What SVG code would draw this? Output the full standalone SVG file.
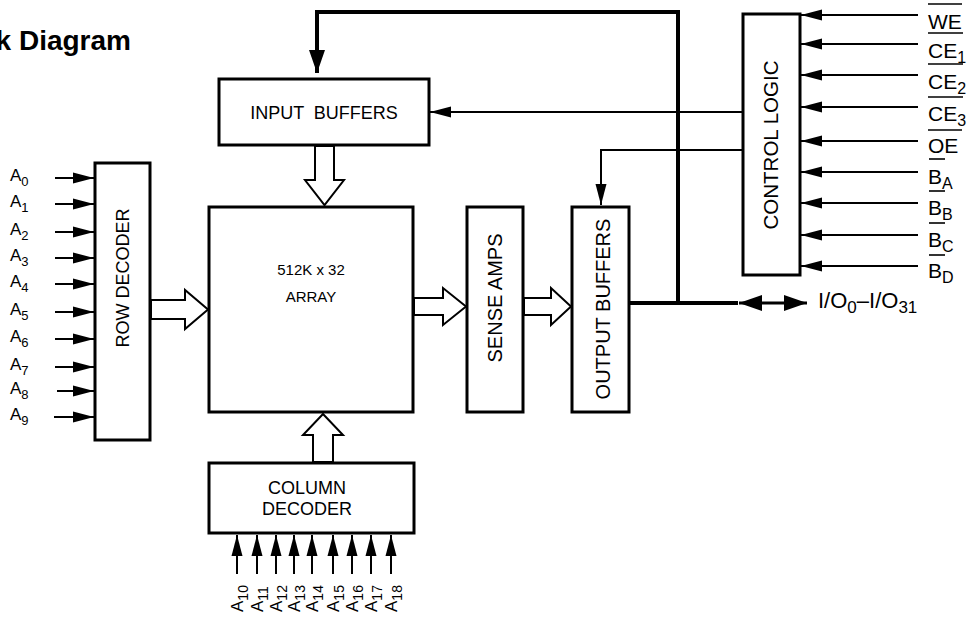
<svg xmlns="http://www.w3.org/2000/svg" width="967" height="617" viewBox="0 0 967 617">
<style>
.box{fill:#fff;stroke:#000;stroke-width:3}
.t{font-family:"Liberation Sans",Arial,sans-serif;fill:#000}
.lbl{font-size:17px}
.sub{font-size:13px}
.csubl{font-size:14px}
.cl{font-size:21px}
.csub{font-size:16px}
.thin{fill:none;stroke:#000;stroke-width:2}
.thick{fill:none;stroke:#000;stroke-width:4}
.hollow{fill:#fff;stroke:#000;stroke-width:2}
.ol{stroke:#000;stroke-width:1.6}
</style>
<defs>
<marker id="ah" markerUnits="userSpaceOnUse" markerWidth="22" markerHeight="12" refX="21" refY="6" orient="auto-start-reverse" viewBox="0 0 22 12">
<path d="M0,0.5 L21,6 L0,11.5 z" fill="#000"/>
</marker>
<marker id="ahb" markerUnits="userSpaceOnUse" markerWidth="24" markerHeight="16" refX="23" refY="8" orient="auto-start-reverse" viewBox="0 0 24 16">
<path d="M0,0 L23,8 L0,16 z" fill="#000"/>
</marker>
</defs>
<rect width="967" height="617" fill="#fff"/>

<text class="t" x="131" y="50" font-size="28" font-weight="bold" text-anchor="end">k Diagram</text>

<g id="connectors">
  <!-- feedback loop -->
  <path class="thick" d="M678,303 V12 H317 V73" marker-end="url(#ahb)"/>
  <!-- I/O line -->
  <path class="thick" d="M630,303 H738"/>
  <path d="M739,303 H807" stroke="#000" stroke-width="3" fill="none" marker-start="url(#ahb)" marker-end="url(#ahb)"/>
  <!-- control to input buffers -->
  <path class="thin" d="M742,112 H430" marker-end="url(#ah)"/>
  <!-- control to output buffers -->
  <path class="thin" d="M742,150 H601 V205" marker-end="url(#ah)"/>
  <!-- control inputs -->
  <path class="thin" d="M918,15 H801" marker-end="url(#ah)"/>
  <path class="thin" d="M918,44 H801" marker-end="url(#ah)"/>
  <path class="thin" d="M918,75 H801" marker-end="url(#ah)"/>
  <path class="thin" d="M918,107 H801" marker-end="url(#ah)"/>
  <path class="thin" d="M918,141 H801" marker-end="url(#ah)"/>
  <path class="thin" d="M918,172 H801" marker-end="url(#ah)"/>
  <path class="thin" d="M918,203 H801" marker-end="url(#ah)"/>
  <path class="thin" d="M918,235 H801" marker-end="url(#ah)"/>
  <path class="thin" d="M918,266 H801" marker-end="url(#ah)"/>
  <!-- row address inputs -->
  <path class="thin" d="M55,178 H94" marker-end="url(#ah)"/>
  <path class="thin" d="M55,204 H94" marker-end="url(#ah)"/>
  <path class="thin" d="M55,232 H94" marker-end="url(#ah)"/>
  <path class="thin" d="M55,258 H94" marker-end="url(#ah)"/>
  <path class="thin" d="M55,284 H94" marker-end="url(#ah)"/>
  <path class="thin" d="M55,312 H94" marker-end="url(#ah)"/>
  <path class="thin" d="M55,339 H94" marker-end="url(#ah)"/>
  <path class="thin" d="M55,367 H94" marker-end="url(#ah)"/>
  <path class="thin" d="M57,391 H94" marker-end="url(#ah)"/>
  <path class="thin" d="M54,417 H94" marker-end="url(#ah)"/>
  <!-- column address inputs -->
  <path class="thin" d="M237,574 V535" marker-end="url(#ah)"/>
  <path class="thin" d="M257,574 V535" marker-end="url(#ah)"/>
  <path class="thin" d="M276,574 V535" marker-end="url(#ah)"/>
  <path class="thin" d="M294,574 V535" marker-end="url(#ah)"/>
  <path class="thin" d="M312,574 V535" marker-end="url(#ah)"/>
  <path class="thin" d="M333,574 V535" marker-end="url(#ah)"/>
  <path class="thin" d="M352,574 V535" marker-end="url(#ah)"/>
  <path class="thin" d="M371,574 V535" marker-end="url(#ah)"/>
  <path class="thin" d="M391,574 V535" marker-end="url(#ah)"/>
  <!-- hollow bus arrows -->
  <polygon class="hollow" points="315,146 334,146 334,180 344,180 324.5,205 305,180 315,180"/>
  <polygon class="hollow" points="151,300 185,300 185,290 208,309.5 185,329 185,319 151,319"/>
  <polygon class="hollow" points="414,298 443,298 443,288 466,306.5 443,325 443,315 414,315"/>
  <polygon class="hollow" points="524,298 551,298 551,288 571,306.5 551,325 551,315 524,315"/>
  <polygon class="hollow" points="313,462 313,435 303,435 323,414 343,435 333,435 333,462"/>
</g>

<g id="input-buffers">
  <rect class="box" x="219" y="79" width="210" height="66"/>
  <text class="t" x="324" y="119" font-size="18" text-anchor="middle" xml:space="preserve">INPUT  BUFFERS</text>
</g>
<g id="row-decoder">
  <rect class="box" x="95" y="163" width="55" height="277"/>
  <text class="t" transform="translate(129,278) rotate(-90)" font-size="18" text-anchor="middle">ROW DECODER</text>
</g>
<g id="array">
  <rect class="box" x="209" y="207" width="204" height="205"/>
  <text class="t" x="311" y="275" font-size="15" text-anchor="middle">512K x 32</text>
  <text class="t" x="311" y="302" font-size="15" text-anchor="middle">ARRAY</text>
</g>
<g id="sense-amps">
  <rect class="box" x="467" y="207" width="56" height="205"/>
  <text class="t" transform="translate(502,298) rotate(-90)" font-size="20" text-anchor="middle">SENSE AMPS</text>
</g>
<g id="output-buffers">
  <rect class="box" x="572" y="207" width="57" height="205"/>
  <text class="t" transform="translate(610,309) rotate(-90)" font-size="20" text-anchor="middle">OUTPUT BUFFERS</text>
</g>
<g id="control-logic">
  <rect class="box" x="743" y="14" width="57" height="261"/>
  <text class="t" transform="translate(778,145) rotate(-90)" font-size="20.5" text-anchor="middle">CONTROL LOGIC</text>
</g>
<g id="column-decoder">
  <rect class="box" x="209" y="463" width="205" height="70"/>
  <text class="t" x="307" y="494" font-size="18" text-anchor="middle">COLUMN</text>
  <text class="t" x="307" y="515" font-size="18" text-anchor="middle">DECODER</text>
</g>

<g id="row-labels" class="t lbl">
  <text x="10" y="181">A<tspan class="sub" dy="5">0</tspan></text>
  <text x="10" y="207">A<tspan class="sub" dy="5">1</tspan></text>
  <text x="10" y="235">A<tspan class="sub" dy="5">2</tspan></text>
  <text x="10" y="261">A<tspan class="sub" dy="5">3</tspan></text>
  <text x="10" y="287">A<tspan class="sub" dy="5">4</tspan></text>
  <text x="10" y="315">A<tspan class="sub" dy="5">5</tspan></text>
  <text x="10" y="342">A<tspan class="sub" dy="5">6</tspan></text>
  <text x="10" y="370">A<tspan class="sub" dy="5">7</tspan></text>
  <text x="10" y="394">A<tspan class="sub" dy="5">8</tspan></text>
  <text x="10" y="420">A<tspan class="sub" dy="5">9</tspan></text>
</g>

<g id="col-labels" class="t lbl">
  <text transform="translate(243,612) rotate(-90)">A<tspan class="csubl" dy="5">10</tspan></text>
  <text transform="translate(263,612) rotate(-90)">A<tspan class="csubl" dy="5">11</tspan></text>
  <text transform="translate(282,612) rotate(-90)">A<tspan class="csubl" dy="5">12</tspan></text>
  <text transform="translate(300,612) rotate(-90)">A<tspan class="csubl" dy="5">13</tspan></text>
  <text transform="translate(318,612) rotate(-90)">A<tspan class="csubl" dy="5">14</tspan></text>
  <text transform="translate(339,612) rotate(-90)">A<tspan class="csubl" dy="5">15</tspan></text>
  <text transform="translate(358,612) rotate(-90)">A<tspan class="csubl" dy="5">16</tspan></text>
  <text transform="translate(377,612) rotate(-90)">A<tspan class="csubl" dy="5">17</tspan></text>
  <text transform="translate(397,612) rotate(-90)">A<tspan class="csubl" dy="5">18</tspan></text>
</g>

<g id="control-labels" class="t cl">
  <text x="928" y="29">WE</text>
  <line class="ol" x1="928" y1="4" x2="962" y2="4"/>
  <text x="928" y="58">CE<tspan class="csub" dy="5">1</tspan></text>
  <line class="ol" x1="928" y1="33" x2="963" y2="33"/>
  <text x="928" y="89">CE<tspan class="csub" dy="5">2</tspan></text>
  <line class="ol" x1="928" y1="64" x2="963" y2="64"/>
  <text x="928" y="121">CE<tspan class="csub" dy="5">3</tspan></text>
  <line class="ol" x1="928" y1="97" x2="963" y2="97"/>
  <text x="928" y="153">OE</text>
  <line class="ol" x1="928" y1="130" x2="962" y2="130"/>
  <text x="928" y="184">B<tspan class="csub" dy="5">A</tspan></text>
  <line class="ol" x1="929" y1="159" x2="945" y2="159"/>
  <text x="928" y="215">B<tspan class="csub" dy="5">B</tspan></text>
  <line class="ol" x1="929" y1="191" x2="945" y2="191"/>
  <text x="928" y="247">B<tspan class="csub" dy="5">C</tspan></text>
  <line class="ol" x1="929" y1="223" x2="945" y2="223"/>
  <text x="928" y="278">B<tspan class="csub" dy="5">D</tspan></text>
  <line class="ol" x1="929" y1="255" x2="945" y2="255"/>
  <text x="818" y="308" font-size="22">I/O<tspan font-size="17" dy="5">0</tspan><tspan dy="-5">–I/O</tspan><tspan font-size="17" dy="5">31</tspan></text>
</g>
</svg>
